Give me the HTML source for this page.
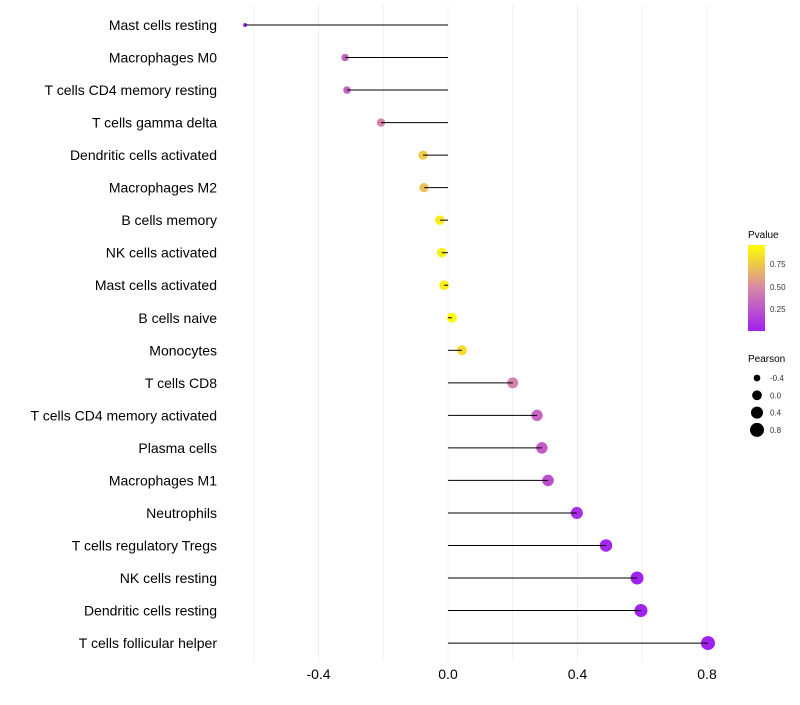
<!DOCTYPE html>
<html><head><meta charset="utf-8"><style>
body{margin:0;background:#fff;font-family:"Liberation Sans",sans-serif}
svg text{font-family:"Liberation Sans",sans-serif}
</style></head><body>
<svg id="chart" width="800" height="700" xmlns="http://www.w3.org/2000/svg">
<defs><linearGradient id="pg" x1="0" y1="1" x2="0" y2="0">
<stop offset="0" stop-color="#a020f0"/><stop offset="0.5" stop-color="#d887a6"/><stop offset="1" stop-color="#ffff00"/>
</linearGradient></defs>
<g id="grid"></g>
<g id="marks"></g>
<g id="ylabels"></g>
<g id="xlabels"></g>
<g>
<text x="748" y="238" font-size="10" fill="#000">Pvalue</text>
<rect x="748" y="245" width="17" height="86" fill="url(#pg)"/>
<text x="770" y="267" font-size="8" fill="#333">0.75</text>
<text x="770" y="290" font-size="8" fill="#333">0.50</text>
<text x="770" y="312" font-size="8" fill="#333">0.25</text>
</g>
<g id="sizeleg">
<text x="748" y="362" font-size="10" fill="#000">Pearson</text>
</g>
</svg>
<script>
const categories=["Mast cells resting","Macrophages M0","T cells CD4 memory resting","T cells gamma delta","Dendritic cells activated","Macrophages M2","B cells memory","NK cells activated","Mast cells activated","B cells naive","Monocytes","T cells CD8","T cells CD4 memory activated","Plasma cells","Macrophages M1","Neutrophils","T cells regulatory  Tregs","NK cells resting","Dendritic cells resting","T cells follicular helper"];
const pearson=[-0.627,-0.318,-0.312,-0.207,-0.077,-0.074,-0.025,-0.019,-0.012,0.012,0.043,0.2,0.275,0.29,0.309,0.398,0.488,0.584,0.596,0.803];
const pvalue=[0.02,0.3,0.3,0.45,0.75,0.72,0.88,0.9,0.9,0.95,0.82,0.45,0.32,0.28,0.22,0.08,0.03,0.01,0.01,0.0];
const xTicks=[-0.4,0.0,0.4,0.8];
const gridVals=[-0.6,-0.4,-0.2,0,0.2,0.4,0.6,0.8];
const legendSizes=[-0.4,0.0,0.4,0.8];
const NS="http://www.w3.org/2000/svg";
const x=v=>448+v*323.75, y=i=>25+i*32.53;
const r=v=>Math.sqrt(Math.max(1,23.8+31.5*v));
function lerp(a,b,t){return a.map((c,i)=>Math.round(c+(b[i]-c)*t));}
function col(p){const s=[[160,32,240],[216,135,166],[255,255,0]];let t=Math.min(1,Math.max(0,p/0.96))*2;const c=t<1?lerp(s[0],s[1],t):lerp(s[1],s[2],t-1);return `rgb(${c})`;}
function mk(tag,at,parent){const e=document.createElementNS(NS,tag);for(const k in at)e.setAttribute(k,at[k]);parent.appendChild(e);return e;}
const grid=document.getElementById('grid'),marks=document.getElementById('marks'),yl=document.getElementById('ylabels'),xl=document.getElementById('xlabels'),sl=document.getElementById('sizeleg');
gridVals.forEach(g=>{const l=mk('line',{x1:x(g),x2:x(g),y1:5,y2:662,stroke:'#f0f0f0','stroke-width':1},grid);

});
categories.forEach((c,i)=>{
const p=mk('circle',{cx:x(pearson[i]),cy:y(i),r:r(pearson[i]),fill:col(pvalue[i])},marks);


const s=mk('line',{x1:x(0),x2:x(pearson[i]),y1:y(i),y2:y(i),stroke:'#000','stroke-width':1},marks);


const t=mk('text',{x:217,y:y(i)+5,'text-anchor':'end','font-size':14,fill:'#000'},yl);t.textContent=c;


});
xTicks.forEach(v=>{const t=mk('text',{x:x(v),y:679,'text-anchor':'middle','font-size':14,fill:'#000'},xl);t.textContent=v.toFixed(1);

});
legendSizes.forEach((v,i)=>{const cy=378+i*17.3;
const c=mk('circle',{cx:757,cy:cy,r:r(v),fill:'#000'},sl);


const t=mk('text',{x:770,y:cy+3,'font-size':8,fill:'#333'},sl);t.textContent=v.toFixed(1);

});
</script>
</body></html>
